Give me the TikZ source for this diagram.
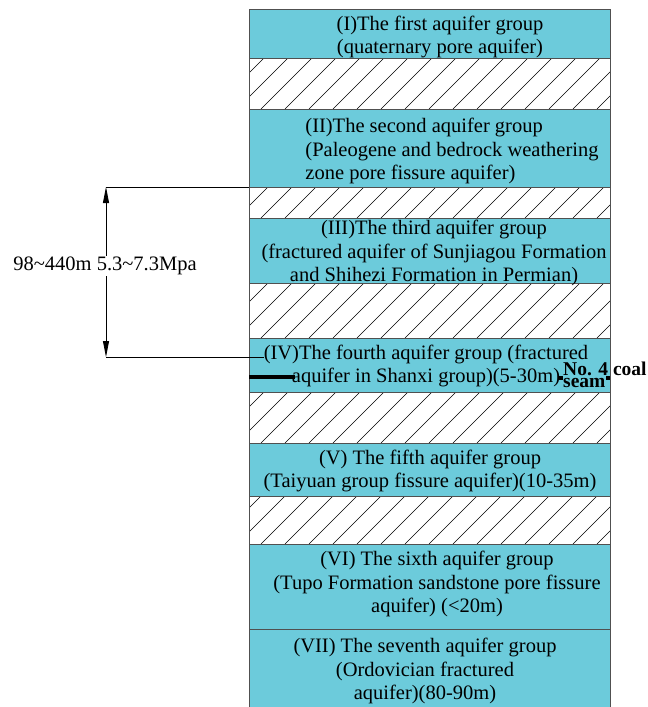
\documentclass[tikz,border=0pt]{standalone}
\usepackage{fontspec}
\setmainfont{Liberation Serif}
\usetikzlibrary{arrows.meta}
\definecolor{aquacyan}{RGB}{108,203,219}
\definecolor{edgegray}{RGB}{80,80,80}

\begin{document}
\begin{tikzpicture}[x=1pt,y=-1pt,
  aquifer/.style={draw=edgegray,fill=aquacyan,line width=1pt},
  aquitard/.style={draw=edgegray,line width=1pt},
  hatch/.style={black,line width=0.6pt},
  lbl/.style={font=\fontsize{20.5}{23.5}\selectfont,align=center,inner sep=0pt},
  dimline/.style={black,line width=0.8pt},
  dimtip/.style={{Triangle[length=16pt,width=6pt]}-{Triangle[length=16pt,width=6pt]}}]
\useasboundingbox (0,0) rectangle (648,707);
% aquifer groups
\foreach \a/\b in {9/58,109/187,218/283,338/392,443/496,544/629,629/709}
  \draw [aquifer] (249,\a) rectangle (610,\b);
% aquitards (hatched)
\foreach \a/\b in {58/109,187/218,283/338,392/443,496/544} {
  \begin{scope}
    \clip (249,\a) rectangle (610,\b);
    \foreach \k in {0,...,18}
      \draw [hatch] (189+\k*24,\b) -- ++(60,-60);
  \end{scope}
  \draw [aquitard] (249,\a) rectangle (610,\b);
}
% texts
\node [lbl] (g1) at (440,37) {(I)The first aquifer group\\(quaternary pore aquifer)};
\node [lbl,align=left] (g2) at (452,151) {(II)The second aquifer group\\(Paleogene and bedrock weathering\\zone pore fissure aquifer)};
\node [lbl] (g3) at (434,253) {(III)The third aquifer group\\(fractured aquifer of Sunjiagou Formation\\and Shihezi Formation in Permian)};
\node [lbl] (g4) at (426,366) {(IV)The fourth aquifer group (fractured\\aquifer in Shanxi group)(5-30m)};
\node [lbl] (g5) at (430,471) {(V) The fifth aquifer group\\(Taiyuan group fissure aquifer)(10-35m)};
\node [lbl] (g6) at (437,584) {(VI) The sixth aquifer group\\(Tupo Formation sandstone pore fissure\\aquifer) (<20m)};
\node [lbl] (g7) at (425,671) {(VII) The seventh aquifer group\\(Ordovician fractured\\aquifer)(80-90m)};
% coal seam
\coordinate (seamL) at (249,377);
\coordinate (seamR) at (295,377);
\draw [black,line width=4pt] (seamL) -- (seamR);
\node [font=\bfseries\fontsize{19.5}{12}\selectfont,align=left,inner sep=0pt,anchor=north west] (seam) at (563,362) {No. 4 coal\\seam};
\fill [black] (559,376) rectangle ++(4,4);
\fill [black] (606,376) rectangle ++(4,4);
% burial depth and pressure
\coordinate (dtop) at (106,187);
\coordinate (dbot) at (106,357);
\coordinate (topR) at (249,187);
\draw [dimline] (dtop) -- (topR);
\draw [dimline] (dbot) -- (dbot -| g4.west);
\draw [dimline,dimtip] (dtop) -- (dbot);
\node [lbl,fill=white,inner sep=1pt] (depth) at (105,266) {98\textasciitilde440m 5.3\textasciitilde7.3Mpa};
\end{tikzpicture}
\end{document}
